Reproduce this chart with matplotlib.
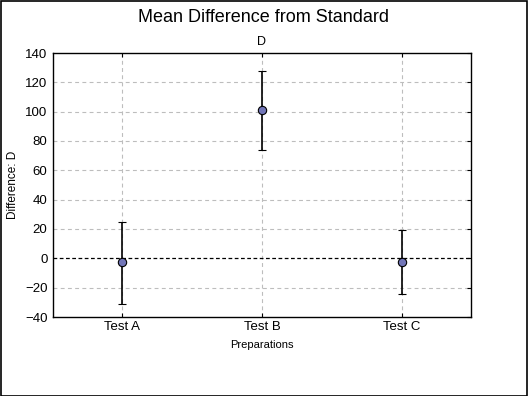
import matplotlib
matplotlib.use("Agg")
import matplotlib.pyplot as plt
from matplotlib.patches import Rectangle

plt.rcParams['font.family'] = ['Liberation Sans', 'DejaVu Sans']

preparations = ["Test A", "Test B", "Test C"]
means = [-2.7, 101.1, -2.3]
upper = [24.5, 127.9, 19.1]
lower = [-30.9, 73.8, -24.5]
y_ticks = [-40, -20, 0, 20, 40, 60, 80, 100, 120, 140]

err_low = [m - lo for m, lo in zip(means, lower)]
err_high = [hi - m for m, hi in zip(means, upper)]
xpos = list(range(len(preparations)))

fig = plt.figure(figsize=(5.28, 3.96), dpi=100)
ax = fig.add_axes([53 / 528, 1 - 317 / 396, 418 / 528, 264 / 396])

ax.set_xlim(-0.493, 2.493)
ax.set_ylim(-40, 140)
ax.set_yticks(y_ticks)
ax.set_xticks(xpos)
ax.set_xticklabels(preparations)

for y in y_ticks:
    if y not in (-40, 0, 140):
        ax.axhline(y, color="#bdbdbd", lw=0.8, ls=(0, (3.5, 3)), zorder=0)
for x in xpos:
    ax.axvline(x, color="#bdbdbd", lw=0.8, ls=(0, (3.5, 3)), zorder=0)
ax.axhline(0, color="black", lw=0.9, ls=(0, (3, 2)), zorder=1)

ax.errorbar(xpos, means, yerr=[err_low, err_high], fmt="o", color="black",
            ecolor="black", elinewidth=1.2, capsize=3, capthick=1.2,
            markersize=6, markerfacecolor="#7276b8", markeredgecolor="black",
            markeredgewidth=0.8, zorder=3)

ax.tick_params(axis="both", labelsize=9.5, length=3, width=0.8, direction="in",
               top=True, right=True, pad=3)
ax.tick_params(axis="y", left=False, pad=4)
for s in ax.spines.values():
    s.set_linewidth(1.0)

ax.set_ylabel("Difference: D", fontsize=8.5, labelpad=4)
ax.set_xlabel("Preparations", fontsize=8, labelpad=5)
ax.set_title("D", fontsize=9, pad=6)
fig.text(0.5, 1 - 17 / 396, "Mean Difference from Standard", ha="center",
         va="center", fontsize=13)

fig.patches.append(Rectangle((0.001, 0.001), 0.997, 0.997, transform=fig.transFigure,
                             fill=False, edgecolor="black", lw=1.2))

fig.savefig("out.png", dpi=100)
